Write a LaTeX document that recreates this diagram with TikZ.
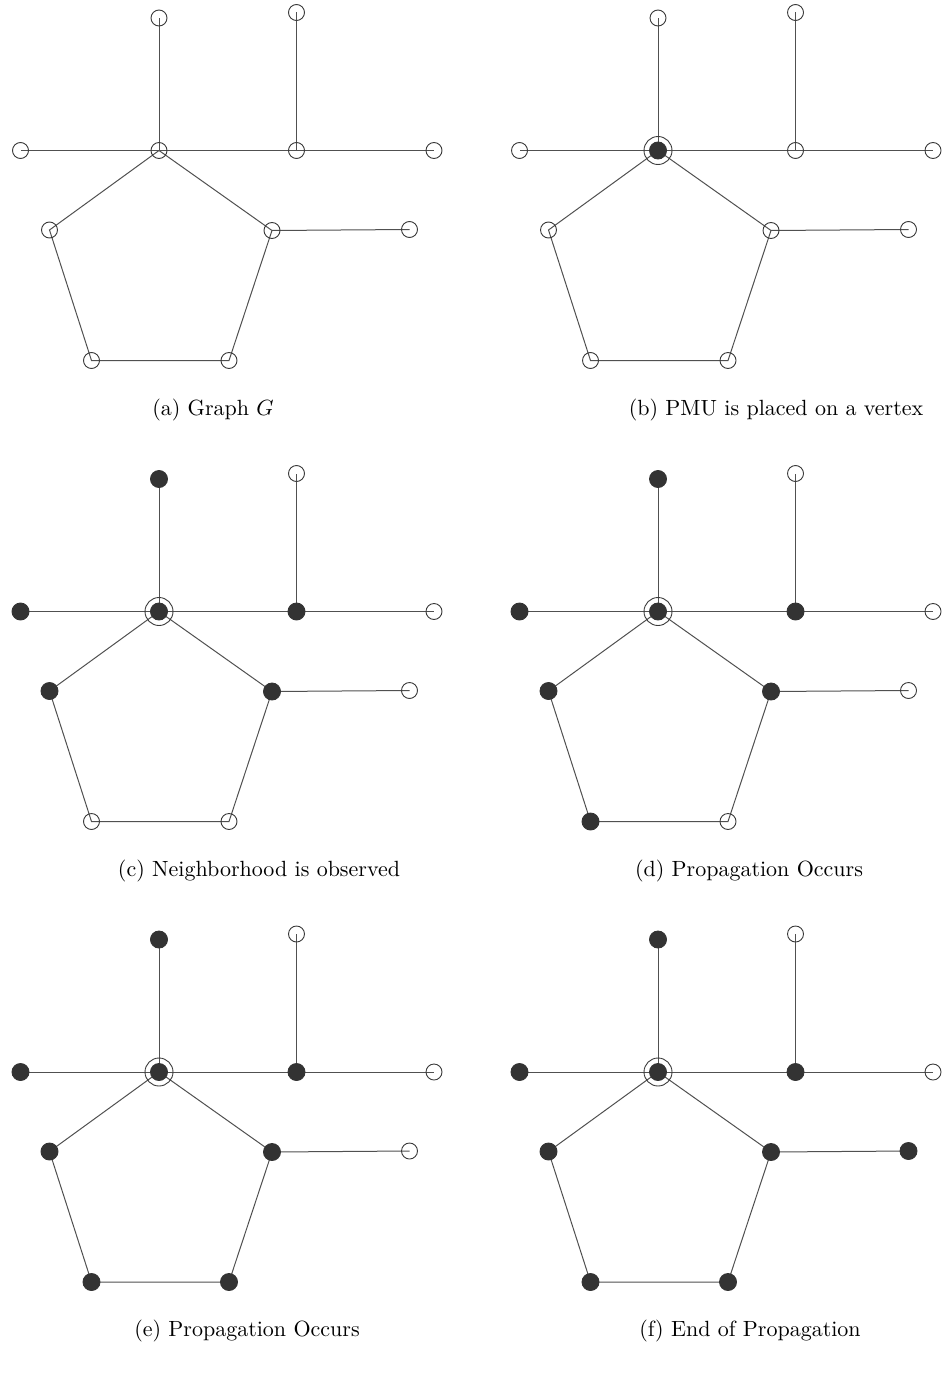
\documentclass[tikz,border=0pt]{standalone}
\usetikzlibrary{backgrounds}
\definecolor{vline}{HTML}{3A3A3A}
\definecolor{eline}{HTML}{505050}
\definecolor{vfill}{HTML}{333333}
\tikzset{
  vtx/.style={circle, draw=vline, line width=0.9pt, minimum size=16pt, inner sep=0pt},
  vfull/.style={fill=vfill, draw=vfill, minimum size=17pt},
  edgeline/.style={draw=eline, line width=1pt},
  pmuring/.style={draw=vline, line width=0.9pt},
  captext/.style={scale=2.2, inner sep=0pt, anchor=base},
  st T1/.style={}, st T2/.style={}, st L/.style={}, st C/.style={},
  st M/.style={}, st R/.style={}, st PL/.style={}, st PR/.style={},
  st BL/.style={}, st BR/.style={}, st X/.style={}
}
\newcommand\graphpanel[5]{%
  \begin{scope}[shift={#2}, #3]
    \node[vtx, st T1] (#1T1) at (159,18) {};
    \node[vtx, st T2] (#1T2) at (296.5,12.5) {};
    \node[vtx, st L]  (#1L)  at (20.5,150.5) {};
    \node[vtx, st C]  (#1C)  at (159,150.5) {};
    \node[vtx, st M]  (#1M)  at (296.5,150.5) {};
    \node[vtx, st R]  (#1R)  at (434,150.5) {};
    \node[vtx, st PL] (#1PL) at (49.5,230) {};
    \node[vtx, st PR] (#1PR) at (272,230.5) {};
    \node[vtx, st BL] (#1BL) at (91.5,360.5) {};
    \node[vtx, st BR] (#1BR) at (229,360.5) {};
    \node[vtx, st X]  (#1X)  at (409.5,229.5) {};
    \begin{scope}[on background layer]
      \draw[edgeline] (#1C.center) -- (#1T1.center);
      \draw[edgeline] (#1C.center) -- (#1L.center);
      \draw[edgeline] (#1C.center) -- (#1M.center);
      \draw[edgeline] (#1M.center) -- (#1T2.center);
      \draw[edgeline] (#1M.center) -- (#1R.center);
      \draw[edgeline] (#1C.center) -- (#1PR.center) -- (#1BR.center) -- (#1BL.center) -- (#1PL.center) -- (#1C.center);
      \draw[edgeline] (#1PR.center) -- (#1X.center);
    \end{scope}
    \node[captext] (#1cap) at (#4,415) {#5};
  \end{scope}}
\begin{document}
\begin{tikzpicture}[x=1pt, y=-1pt]
  \useasboundingbox (0,0) rectangle (944,1378);
  \graphpanel{a}{(0,0)}{}{213}{(a) Graph $G$}
  \graphpanel{b}{(499,0)}{st C/.style=vfull}{277}{(b) PMU is placed on a vertex}
  \draw[pmuring] (bC) circle[radius=14];
  \graphpanel{c}{(0,461)}{st C/.style=vfull, st T1/.style=vfull, st L/.style=vfull,
    st M/.style=vfull, st PL/.style=vfull, st PR/.style=vfull}{259}{(c) Neighborhood is observed}
  \draw[pmuring] (cC) circle[radius=14];
  \graphpanel{d}{(499,461)}{st C/.style=vfull, st T1/.style=vfull, st L/.style=vfull,
    st M/.style=vfull, st PL/.style=vfull, st PR/.style=vfull, st BL/.style=vfull}{250}{(d) Propagation Occurs}
  \draw[pmuring] (dC) circle[radius=14];
  \graphpanel{e}{(0,921.5)}{st C/.style=vfull, st T1/.style=vfull, st L/.style=vfull,
    st M/.style=vfull, st PL/.style=vfull, st PR/.style=vfull, st BL/.style=vfull,
    st BR/.style=vfull}{247}{(e) Propagation Occurs}
  \draw[pmuring] (eC) circle[radius=14];
  \graphpanel{f}{(499,921.5)}{st C/.style=vfull, st T1/.style=vfull, st L/.style=vfull,
    st M/.style=vfull, st PL/.style=vfull, st PR/.style=vfull, st BL/.style=vfull,
    st BR/.style=vfull, st X/.style=vfull}{251}{(f) End of Propagation}
  \draw[pmuring] (fC) circle[radius=14];
\end{tikzpicture}
\end{document}
